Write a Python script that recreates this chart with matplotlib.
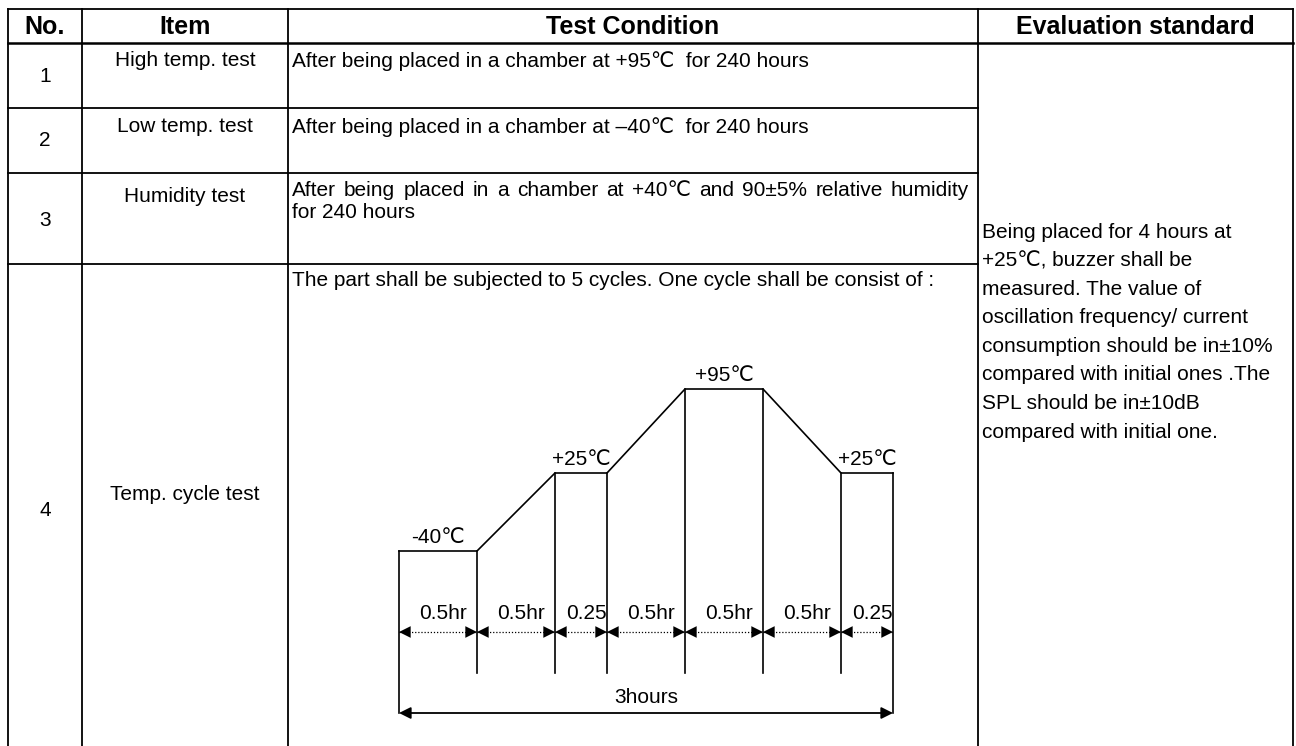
import numpy as np
import matplotlib.pyplot as plt

plt.rcParams['font.family'] = ['Liberation Sans', 'DejaVu Sans']

# table content
headers = ['No.', 'Item', 'Test Condition', 'Evaluation standard']
test_no = ['1', '2', '3', '4']
test_items = ['High temp. test', 'Low temp. test', 'Humidity test', 'Temp. cycle test']
test_conditions = [
    ['After being placed in a chamber at +95℃  for 240 hours'],
    ['After being placed in a chamber at \u201340℃  for 240 hours'],
    ['After being placed in a chamber at +40℃  and 90±5% relative humidity',
     'for 240 hours'],
    ['The part shall be subjected to 5 cycles. One cycle shall be consist of :'],
]
evaluation_lines = [
    'Being placed for 4 hours at',
    '+25℃, buzzer shall be',
    'measured. The value of',
    'oscillation frequency/ current',
    'consumption should be in±10%',
    'compared with initial ones .The',
    'SPL should be in±10dB',
    'compared with initial one.',
]

# one temperature cycle
segment_hours = [0.5, 0.5, 0.25, 0.5, 0.5, 0.5, 0.25]
segment_labels = ['0.5hr', '0.5hr', '0.25', '0.5hr', '0.5hr', '0.5hr', '0.25']
cycle_temps = [-40, -40, 25, 25, 95, 95, 25, 25]   # at segment boundaries
hold_segments = [0, 2, 4, 6]
hold_labels = ['-40℃', '+25℃', '+95℃', '+25℃']
total_label = '3hours'

W, H = 1296, 746
fig = plt.figure(figsize=(W / 100, H / 100), dpi=100)
ax = fig.add_axes([0, 0, 1, 1])
ax.set_xlim(0, W)
ax.set_ylim(H, 0)
ax.axis('off')

# grid layout (pixels)
col_x = [8, 82, 288, 978, 1293]
row_y = [9, 43, 108, 173, 264]
lw = 1.3
for x in col_x:
    ax.plot([x, x], [row_y[0], H], color='black', lw=lw)
ax.plot([col_x[0], col_x[-1]], [row_y[0], row_y[0]], color='black', lw=lw)
ax.plot([col_x[0], col_x[-1]], [row_y[1], row_y[1]], color='black', lw=1.8)
for y in row_y[2:]:
    ax.plot([col_x[0], col_x[3]], [y, y], color='black', lw=lw)

hdr_y = (row_y[0] + row_y[1]) / 2 + 1
for i, h in enumerate(headers):
    ax.text((col_x[i] + col_x[i + 1]) / 2, hdr_y, h, ha='center', va='center',
            fontsize=18, fontweight='bold')

body_fs = 15
no_y = [77, 141, 220, 510]
item_y = [61, 127, 196, 495]
cond_y = [61, 127, 191, 281]
line_gap = 21
item_cx = (col_x[1] + col_x[2]) / 2
for i in range(4):
    ax.text((col_x[0] + col_x[1]) / 2, no_y[i], test_no[i], ha='center',
            va='center', fontsize=body_fs)
    ax.text(item_cx, item_y[i], test_items[i], ha='center', va='center',
            fontsize=body_fs)

fig.canvas.draw()
renderer = fig.canvas.get_renderer()
text_x0 = col_x[2] + 4
text_x1 = col_x[3] - 9


def justified(line, x0, x1, y):
    words = line.split()
    objs = [ax.text(0, y, w, ha='left', va='center', fontsize=body_fs) for w in words]
    widths = [o.get_window_extent(renderer).width for o in objs]
    gap = (x1 - x0 - sum(widths)) / (len(words) - 1)
    x = x0
    for o, w in zip(objs, widths):
        o.set_x(x)
        x += w + gap


for i, lines in enumerate(test_conditions):
    for k, line in enumerate(lines):
        y = cond_y[i] + k * line_gap
        if i == 2 and k == 0:
            justified(line, text_x0, text_x1, y)
        else:
            ax.text(text_x0, y, line, ha='left', va='center', fontsize=body_fs)

for k, line in enumerate(evaluation_lines):
    ax.text(col_x[3] + 4, 232 + k * 28.6, line, ha='left', va='center',
            fontsize=body_fs)

# temperature cycle diagram
draw_width = {0.5: 1.5, 0.25: 1.0}
widths = [draw_width[h] for h in segment_hours]
xs = np.concatenate([[0], np.cumsum(widths)])
dax = fig.add_axes([399 / W, (H - 713) / H, 494 / W, 324 / H])
dax.set_xlim(0, xs[-1])
dax.set_ylim(-175, 95)
dax.axis('off')

y_tick = -141.7
y_arrow = -107.5
y_lab = -91.7
y_total = -175
dax.plot(xs, cycle_temps, color='black', lw=1.2, clip_on=False)
dax.plot([xs[0], xs[0]], [cycle_temps[0], y_total], color='black', lw=1.2, clip_on=False)
dax.plot([xs[-1], xs[-1]], [cycle_temps[-1], y_total], color='black', lw=1.2, clip_on=False)
for x, t in zip(xs[1:-1], cycle_temps[1:-1]):
    dax.plot([x, x], [t, y_tick], color='black', lw=1.2, clip_on=False)

for i in range(len(widths)):
    dax.plot([xs[i], xs[i + 1]], [y_arrow, y_arrow], color='black', lw=0.9,
             linestyle=(0, (1, 1.5)), clip_on=False)
    dax.annotate('', xy=(xs[i + 1], y_arrow), xytext=(xs[i], y_arrow),
                 arrowprops=dict(arrowstyle='<|-|>,head_length=0.6,head_width=0.3',
                                 color='black', lw=0, shrinkA=0, shrinkB=0,
                                 mutation_scale=14))
    dax.text((xs[i] + xs[i + 1]) / 2 + 0.1, y_lab, segment_labels[i],
             ha='center', va='center', fontsize=body_fs)

dax.annotate('', xy=(xs[-1], y_total), xytext=(xs[0], y_total),
             arrowprops=dict(arrowstyle='<|-|>,head_length=0.5,head_width=0.25',
                             color='black', lw=1.3, shrinkA=0, shrinkB=0,
                             mutation_scale=14))
dax.text(xs[-1] / 2, -161.7, total_label, ha='center', va='center', fontsize=body_fs)

for seg, lab in zip(hold_segments, hold_labels):
    dax.annotate(lab, xy=((xs[seg] + xs[seg + 1]) / 2, cycle_temps[seg + 1]),
                 xytext=(0, 3), textcoords='offset points', ha='center',
                 va='bottom', fontsize=15)

fig.savefig('out.png', dpi=100)
